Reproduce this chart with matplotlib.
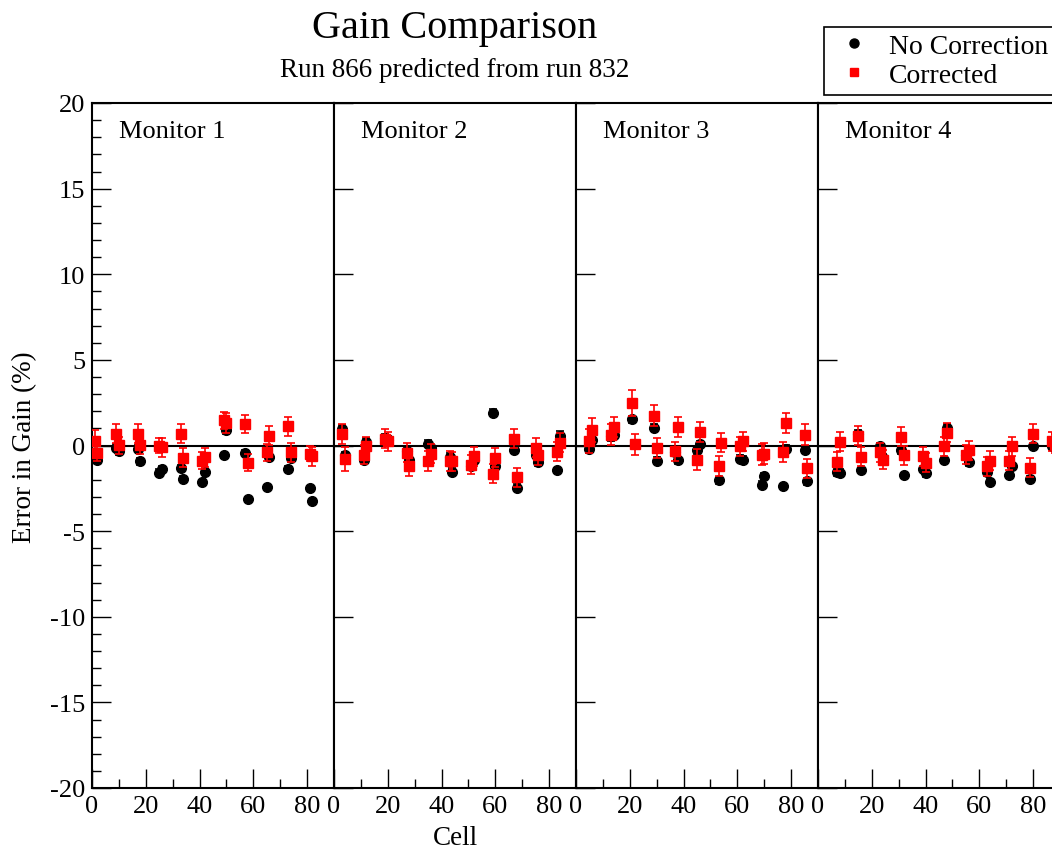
import matplotlib.pyplot as plt
from matplotlib.lines import Line2D
from matplotlib.ticker import MultipleLocator

plt.rcParams["font.family"] = ["Liberation Serif", "DejaVu Serif"]
plt.rcParams["axes.unicode_minus"] = False

monitors = ["Monitor 1", "Monitor 2", "Monitor 3", "Monitor 4"]

# cell numbers per monitor
cells_m1 = [1, 2, 9, 10, 17, 18, 25, 26, 33, 34, 41, 42, 49, 50, 57, 58, 65, 66, 73, 74, 81, 82]
cells_m2 = [3, 4, 11, 12, 19, 20, 27, 28, 35, 36, 43, 44, 51, 52, 59, 60, 67, 68, 75, 76, 83, 84]
cells_m3 = [5, 6, 13, 14, 21, 22, 29, 30, 37, 38, 45, 46, 53, 54, 61, 62, 69, 70, 77, 78, 85, 86]
cells_m4 = [7, 8, 15, 16, 23, 24, 31, 32, 39, 40, 47, 48, 55, 56, 63, 64, 71, 72, 79, 80, 87, 88]

# error in gain (%) without correction
nocorr_m1 = [-0.55, -0.85, -0.14, -0.33, -0.18, -0.91, -1.6, -1.4, -1.3, -1.93, -2.14,
             -1.54, -0.58, 0.9, -0.43, -3.15, -2.43, -0.66, -1.36, -0.74, -2.49, -3.27]
nocorr_m2 = [0.99, -0.58, -0.82, 0.19, 0.45, 0.35, -0.33, -0.82, 0.10, -0.14, -0.66,
             -1.54, -1.21, -0.82, 1.91, -1.17, -0.27, -2.47, -0.53, -0.97, -1.44, 0.58]
nocorr_m3 = [-0.23, 0.35, 0.54, 0.64, 1.52, 0.10, 1.03, -0.88, -0.39, -0.86, -0.27,
             0.06, -2.02, 0.12, -0.78, -0.82, -2.28, -1.79, -2.37, -0.18, -0.29, -2.08]
nocorr_m4 = [-1.56, -1.60, 0.68, -1.44, -0.04, -0.72, -0.29, -1.73, -1.40, -1.63, -0.86,
             1.03, -0.56, -0.97, -1.56, -2.12, -1.75, -1.21, -1.95, -0.04, -0.04, -0.10]

nocorr_err_m1 = [0.2, 0.2, 0.2, 0.25, 0.2, 0.2, 0.2, 0.2, 0.15, 0.15, 0.15,
                 0.15, 0.15, 0.2, 0.15, 0.15, 0.15, 0.2, 0.15, 0.2, 0.15, 0.15]
nocorr_err_m2 = [0.2, 0.2, 0.2, 0.25, 0.2, 0.2, 0.2, 0.2, 0.2, 0.15, 0.2,
                 0.2, 0.2, 0.2, 0.2, 0.25, 0.15, 0.2, 0.2, 0.2, 0.15, 0.25]
nocorr_err_m3 = [0.2, 0.2, 0.25, 0.2, 0.2, 0.2, 0.2, 0.2, 0.2, 0.2, 0.2,
                 0.2, 0.2, 0.2, 0.2, 0.2, 0.2, 0.2, 0.15, 0.2, 0.15, 0.2]
nocorr_err_m4 = [0.2, 0.2, 0.2, 0.15, 0.2, 0.2, 0.2, 0.15, 0.15, 0.2, 0.15,
                 0.2, 0.2, 0.2, 0.2, 0.15, 0.15, 0.2, 0.15, 0.15, 0.15, 0.15]

# error in gain (%) after correction
corr_m1 = [0.29, -0.43, 0.70, 0.02, 0.70, 0.02, 0.0, -0.1, 0.70, -0.72, -0.88,
           -0.68, 1.46, 1.32, 1.26, -1.01, -0.39, 0.58, 1.13, -0.39, -0.47, -0.62]
corr_m2 = [0.68, -0.76, -0.53, -0.04, 0.39, 0.25, -0.43, -1.21, -0.91, -0.47, -0.91,
           -0.91, -1.11, -0.62, -1.65, -0.72, 0.39, -1.85, -0.14, -0.58, -0.37, 0.16]
corr_m3 = [0.25, 0.90, 0.64, 1.07, 2.49, 0.06, 1.75, -0.14, -0.33, 1.07, -0.82,
           0.78, -1.21, 0.16, -0.04, 0.25, -0.53, -0.47, -0.37, 1.32, 0.64, -1.34]
corr_m4 = [-0.95, 0.21, 0.58, -0.66, -0.39, -0.82, 0.51, -0.58, -0.62, -1.01, -0.04,
           0.74, -0.53, -0.29, -1.21, -0.88, -0.88, -0.04, -1.30, 0.68, 0.25, 0.10]

corr_err_m1 = [0.6, 0.45, 0.55, 0.5, 0.55, 0.5, 0.45, 0.55, 0.55, 0.55, 0.5,
               0.55, 0.5, 0.6, 0.55, 0.5, 0.5, 0.55, 0.55, 0.55, 0.45, 0.55]
corr_err_m2 = [0.6, 0.7, 0.55, 0.55, 0.55, 0.55, 0.55, 0.6, 0.6, 0.55, 0.6,
               0.55, 0.55, 0.55, 0.55, 0.55, 0.55, 0.55, 0.55, 0.55, 0.55, 0.55]
corr_err_m3 = [0.7, 0.7, 0.6, 0.6, 0.78, 0.6, 0.6, 0.6, 0.55, 0.6, 0.6,
               0.6, 0.6, 0.55, 0.55, 0.55, 0.6, 0.6, 0.6, 0.6, 0.6, 0.55]
corr_err_m4 = [0.55, 0.55, 0.55, 0.55, 0.55, 0.55, 0.55, 0.55, 0.55, 0.55, 0.55,
               0.55, 0.55, 0.55, 0.55, 0.55, 0.55, 0.55, 0.55, 0.55, 0.55, 0.55]

cells = [cells_m1, cells_m2, cells_m3, cells_m4]
nocorr = [nocorr_m1, nocorr_m2, nocorr_m3, nocorr_m4]
nocorr_err = [nocorr_err_m1, nocorr_err_m2, nocorr_err_m3, nocorr_err_m4]
corr = [corr_m1, corr_m2, corr_m3, corr_m4]
corr_err = [corr_err_m1, corr_err_m2, corr_err_m3, corr_err_m4]

W, H = 1052, 853
fig = plt.figure(figsize=(W / 100, H / 100), dpi=100)

left0, panel_w = 92, 242
bottom_px, top_px = 789, 104

for i in range(4):
    ax = fig.add_axes([(left0 + i * panel_w) / W, (H - bottom_px) / H,
                       panel_w / W, (bottom_px - top_px) / H])
    ax.axhline(0, color="black", lw=1.5, zorder=1)
    ax.errorbar(cells[i], nocorr[i], yerr=nocorr_err[i], fmt="o", color="black",
                ms=7, elinewidth=1.2, capsize=3, capthick=1.2, zorder=2)
    ax.errorbar(cells[i], corr[i], yerr=corr_err[i], fmt="s", color="red",
                ms=6.5, elinewidth=1.2, capsize=3, capthick=1.2, zorder=3)
    ax.set_xlim(0, 90)
    ax.set_ylim(-20, 20)
    for s in ax.spines.values():
        s.set_linewidth(1.5)
    ax.xaxis.set_major_locator(MultipleLocator(20))
    ax.xaxis.set_minor_locator(MultipleLocator(10))
    ax.yaxis.set_major_locator(MultipleLocator(5))
    ax.tick_params(axis="both", which="major", direction="in", length=13.5, width=1,
                   labelsize=19, pad=5)
    ax.tick_params(axis="both", which="minor", direction="in", length=6.8, width=1)
    ax.tick_params(top=False, right=False, which="both")
    if i == 0:
        ax.yaxis.set_minor_locator(MultipleLocator(1))
    else:
        ax.tick_params(axis="y", labelleft=False)
    ax.text(27 / panel_w, 0.950, monitors[i], transform=ax.transAxes,
            fontsize=19, va="baseline", ha="left")

fig.text(455 / W, 1 - 38 / H, "Gain Comparison", fontsize=29, ha="center", va="baseline")
fig.text(455 / W, 1 - 77 / H, "Run 866 predicted from run 832", fontsize=19.5,
         ha="center", va="baseline")
fig.text(455 / W, 1 - 845 / H, "Cell", fontsize=19.5, ha="center", va="baseline")
fig.text(25 / W, 1 - 447 / H, "Error in Gain (%)", fontsize=19.5, rotation=90,
         ha="center", va="center")

handles = [Line2D([], [], ls="none", marker="o", color="black", ms=6.5),
           Line2D([], [], ls="none", marker="s", color="red", ms=5.5)]
leg = fig.legend(handles, ["No Correction", "Corrected"], loc="upper left",
                 bbox_to_anchor=(824 / W, 1 - 28 / H), fontsize=20, frameon=True,
                 fancybox=False, edgecolor="black", framealpha=1, borderpad=0.24,
                 labelspacing=0.12, handlelength=1.7, handletextpad=0.4,
                 borderaxespad=0)
leg.get_frame().set_linewidth(1.2)

fig.savefig("out.png", dpi=100)
